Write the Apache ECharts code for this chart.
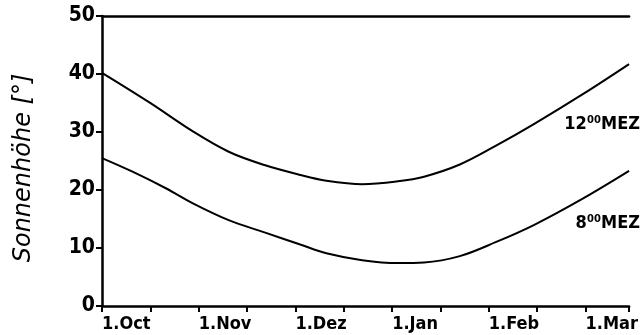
<!DOCTYPE html>
<html>
<head>
<meta charset="utf-8">
<script src="https://cdn.jsdelivr.net/npm/echarts@6/dist/echarts.min.js"></script>
<style>html,body{margin:0;padding:0;background:#fff}#c{width:641px;height:335px}</style>
</head>
<body>
<div id="c"></div>
<script>
// x = months since 1 October
var monthLabels = ['1.Oct', '1.Nov', '1.Dez', '1.Jan', '1.Feb', '1.Mar'];
var x12 = [0, 0.49, 0.94, 1.31, 1.68, 2.05, 2.32, 2.69, 3.06, 3.33, 3.70, 4.07, 4.47, 4.98, 5.45];
var y12 = [40.2, 35.1, 30.1, 26.6, 24.3, 22.6, 21.6, 21.0, 21.5, 22.3, 24.4, 27.6, 31.4, 36.6, 41.7];
var x8 = [0, 0.31, 0.66, 0.94, 1.31, 1.68, 2.05, 2.32, 2.69, 3.06, 3.33, 3.70, 4.07, 4.47, 4.98, 5.45];
var y8 = [25.5, 23.2, 20.3, 17.7, 14.8, 12.7, 10.6, 9.1, 7.9, 7.4, 7.5, 8.6, 11.0, 14.0, 18.6, 23.3];
var yTicks = [0, 10, 20, 30, 40, 50];

function pairs(xs, ys) { return xs.map(function (v, i) { return [v, ys[i]]; }); }

var font = 'DejaVu Sans Condensed';
var chart = echarts.init(document.getElementById('c'), null, { renderer: 'canvas' });
chart.setOption({
  animation: false,
  grid: { left: 102, top: 16, right: 0, bottom: 29 },
  xAxis: [{
    type: 'value', min: 0, max: 5.45, interval: 1,
    axisLine: { show: true, lineStyle: { color: '#000', width: 2.5 } },
    axisTick: { show: true, inside: false, length: 6, lineStyle: { color: '#000', width: 2 } },
    minorTick: { show: true, splitNumber: 2, length: 6, lineStyle: { color: '#000', width: 2 } },
    splitLine: { show: false },
    axisLabel: {
      showMaxLabel: false, align: 'left', margin: 9,
      color: '#000', fontFamily: font, fontWeight: 'bold', fontSize: 18,
      formatter: function (v) { return monthLabels[Math.round(v)] || ''; }
    }
  }, {
    type: 'value', min: 0, max: 5.45, position: 'top',
    axisLine: { show: true, onZero: false, lineStyle: { color: '#000', width: 2.5 } },
    axisTick: { show: false }, axisLabel: { show: false }, splitLine: { show: false }
  }],
  yAxis: {
    type: 'value', min: yTicks[0], max: yTicks[yTicks.length - 1], interval: 10,
    name: 'Sonnenhöhe [°]', nameLocation: 'middle', nameGap: 66, nameRotate: 90,
    nameTextStyle: { color: '#000', fontFamily: 'DejaVu Sans', fontStyle: 'italic', fontSize: 24, padding: [0, 0, 0, -14] },
    axisLine: { show: true, lineStyle: { color: '#000', width: 2.5 } },
    axisTick: { show: true, length: 6, lineStyle: { color: '#000', width: 2 } },
    splitLine: { show: false },
    axisLabel: { color: '#000', fontFamily: font, fontWeight: 'bold', fontSize: 21, margin: 7 }
  },
  series: [{
    type: 'line', name: '12 MEZ', data: pairs(x12, y12), smooth: 0.35, symbol: 'none',
    lineStyle: { color: '#000', width: 2 }
  }, {
    type: 'line', name: '8 MEZ', data: pairs(x8, y8), smooth: 0.35, symbol: 'none',
    lineStyle: { color: '#000', width: 2 }
  }],
  graphic: [{
    type: 'text', right: 1, top: 115,
    style: { text: '12⁰⁰MEZ', fill: '#000', font: 'bold 18px "DejaVu Sans Condensed"' }
  }, {
    type: 'text', right: 1, top: 214,
    style: { text: '8⁰⁰MEZ', fill: '#000', font: 'bold 18px "DejaVu Sans Condensed"' }
  }]
});
</script>
</body>
</html>
